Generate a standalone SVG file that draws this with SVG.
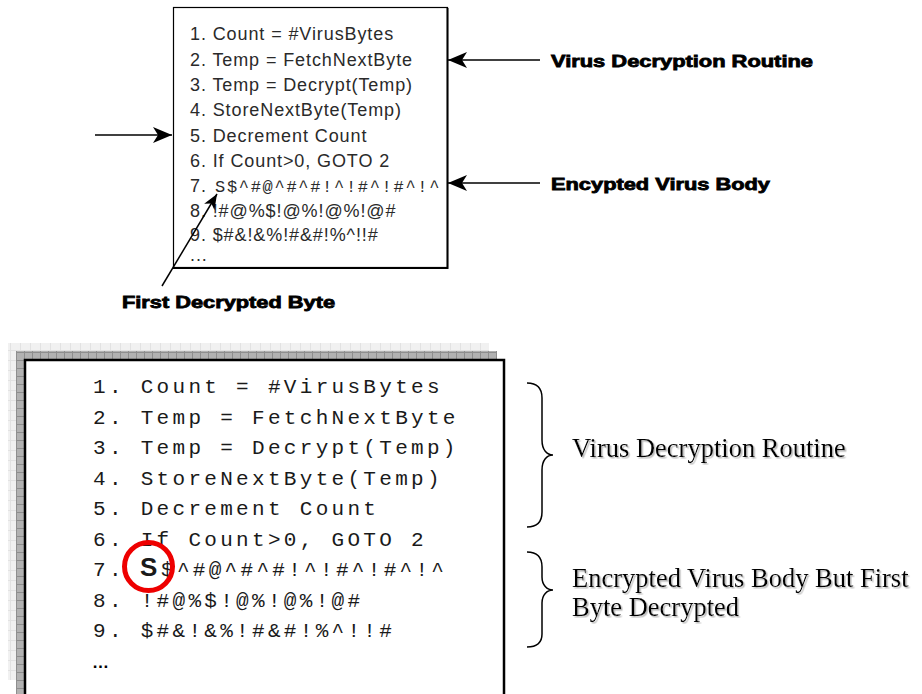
<svg xmlns="http://www.w3.org/2000/svg" width="922" height="694" viewBox="0 0 922 694">
<style>
.sans{font-family:"Liberation Sans",Arial,sans-serif;font-size:18px;letter-spacing:0.9px;fill:#2a2a2a}
.mono{font-family:"Liberation Mono","Courier New",monospace;font-size:21px;letter-spacing:3.3px;fill:#1a1a1a}
.lbl{font-family:"Liberation Sans",Arial,sans-serif;font-size:16.5px;font-weight:bold;fill:#000;stroke:#000;stroke-width:0.8}
.times{font-family:"Liberation Serif","Times New Roman",serif;font-size:26.5px;fill:#000}
.conn{stroke:#000;stroke-width:1.5;fill:none}
</style>
<defs>
<marker id="ah" markerUnits="userSpaceOnUse" markerWidth="22" markerHeight="20" viewBox="-20 -10 22 20" refX="0" refY="0" orient="auto">
<path d="M0,0 L-19,-8 L-14,0 L-19,8 Z" fill="#000"/>
</marker>
<marker id="ahs" markerUnits="userSpaceOnUse" markerWidth="18" markerHeight="16" viewBox="-16 -8 18 16" refX="0" refY="0" orient="auto">
<path d="M0,0 L-15,-6 L-11,0 L-15,6 Z" fill="#000"/>
</marker>
<pattern id="lt" width="10" height="10" patternUnits="userSpaceOnUse"><rect width="10" height="10" fill="#f1f1f1"/><path d="M0,0.5H10M0.5,0V10" stroke="#e2e2e2"/></pattern>
<pattern id="dk" width="8" height="8" patternUnits="userSpaceOnUse"><rect width="8" height="8" fill="#b2b2b2"/><path d="M0,0.5H8M0.5,0V8" stroke="#8e8e8e"/></pattern>
<filter id="sh" x="-5%" y="-20%" width="110%" height="140%"><feDropShadow dx="1.5" dy="1.5" stdDeviation="0.6" flood-color="#bbb"/></filter>
</defs>
<rect width="922" height="694" fill="#fff"/>

<g id="top-box">
<rect x="173.5" y="7.5" width="274" height="260" fill="#fff" stroke="#000" stroke-width="1.2"/>
<path d="M447.5,8 V268 H173" stroke="#000" stroke-width="2" fill="none"/>
<text class="sans" x="190" y="40">1. Count = #VirusBytes</text>
<text class="sans" x="190" y="65.5">2. Temp = FetchNextByte</text>
<text class="sans" x="190" y="91">3. Temp = Decrypt(Temp)</text>
<text class="sans" x="190" y="116">4. StoreNextByte(Temp)</text>
<text class="sans" x="190" y="141.5">5. Decrement Count</text>
<text class="sans" x="190" y="167">6. If Count&gt;0, GOTO 2</text>
<text class="sans" x="190" y="192">7. <tspan x="215" style="font-family:'Liberation Mono','Courier New',monospace;font-size:17px;letter-spacing:1.7px">S$^#@^#^#!^!#^!#^!^</tspan></text>
<text class="sans" x="190" y="217">8. !#@%$!@%!@%!@#</text>
<text class="sans" x="190" y="241">9. $#&amp;!&amp;%!#&amp;#!%^!!#</text>
<text class="sans" x="190" y="261">...</text>
</g>

<g id="label-routine"><text class="lbl" x="551" y="67" textLength="262" lengthAdjust="spacingAndGlyphs">Virus Decryption Routine</text></g>
<g id="label-body"><text class="lbl" x="551" y="190" textLength="219" lengthAdjust="spacingAndGlyphs">Encypted Virus Body</text></g>
<g id="label-first"><text class="lbl" x="122" y="308" textLength="213" lengthAdjust="spacingAndGlyphs">First Decrypted Byte</text></g>

<g id="connectors">
<line class="conn" x1="95" y1="135" x2="172" y2="135" marker-end="url(#ah)"/>
<line class="conn" x1="540" y1="60" x2="448" y2="60" marker-end="url(#ah)"/>
<line class="conn" x1="540" y1="183" x2="448" y2="183" marker-end="url(#ah)"/>
<line class="conn" x1="162" y1="286" x2="217" y2="194" stroke-width="1.2" marker-end="url(#ahs)"/>
</g>

<g id="bottom-box">
<rect x="8" y="343" width="481" height="8" fill="url(#lt)"/>
<rect x="8" y="343" width="8" height="337" fill="url(#lt)"/>
<rect x="16" y="351" width="481" height="8" fill="url(#dk)"/>
<rect x="16" y="351" width="8" height="343" fill="url(#dk)"/>
<rect x="25" y="360" width="479" height="345" fill="#fff" stroke="#000" stroke-width="2.5"/>
<text class="mono" x="93" y="393">1. Count = #VirusBytes</text>
<text class="mono" x="93" y="423.5">2. Temp = FetchNextByte</text>
<text class="mono" x="93" y="454">3. Temp = Decrypt(Temp)</text>
<text class="mono" x="93" y="484.5">4. StoreNextByte(Temp)</text>
<text class="mono" x="93" y="515">5. Decrement Count</text>
<text class="mono" x="93" y="545.5">6. If Count&gt;0, GOTO 2</text>
<text class="mono" x="93" y="576">7.<tspan x="140" style="font-family:'Liberation Sans',Arial,sans-serif;font-weight:bold;font-size:26px;letter-spacing:0">S</tspan><tspan x="161">$^#@^#^#!^!#^!#^!^</tspan></text>
<text class="mono" x="93" y="606.5">8. !#@%$!@%!@%!@#</text>
<text class="mono" x="93" y="637">9. $#&amp;!&amp;%!#&amp;#!%^!!#</text>
<text x="92" y="668" style="font-family:'Liberation Sans',Arial,sans-serif;font-weight:bold;font-size:17px;fill:#000">…</text>
<circle cx="148.5" cy="566.5" r="24" fill="none" stroke="#e00" stroke-width="5"/>
</g>

<g id="brace-routine">
<path class="conn" stroke-width="2" d="M527,383 C537,383 542,388 542,398 L542,440 C542,450 547,455 553,455 C547,455 542,460 542,470 L542,512 C542,522 537,527 527,527"/>
<text class="times" x="572" y="457" filter="url(#sh)">Virus Decryption Routine</text>
</g>
<g id="brace-body">
<path class="conn" stroke-width="2" d="M527,552 C537,552 542,557 542,567 L542,577 C542,585 547,590 553,590 C547,590 542,595 542,603 L542,634 C542,642 537,647 527,647"/>
<text class="times" x="572" y="587" filter="url(#sh)">Encrypted Virus Body But First</text>
<text class="times" x="572" y="616" filter="url(#sh)">Byte Decrypted</text>
</g>
</svg>
